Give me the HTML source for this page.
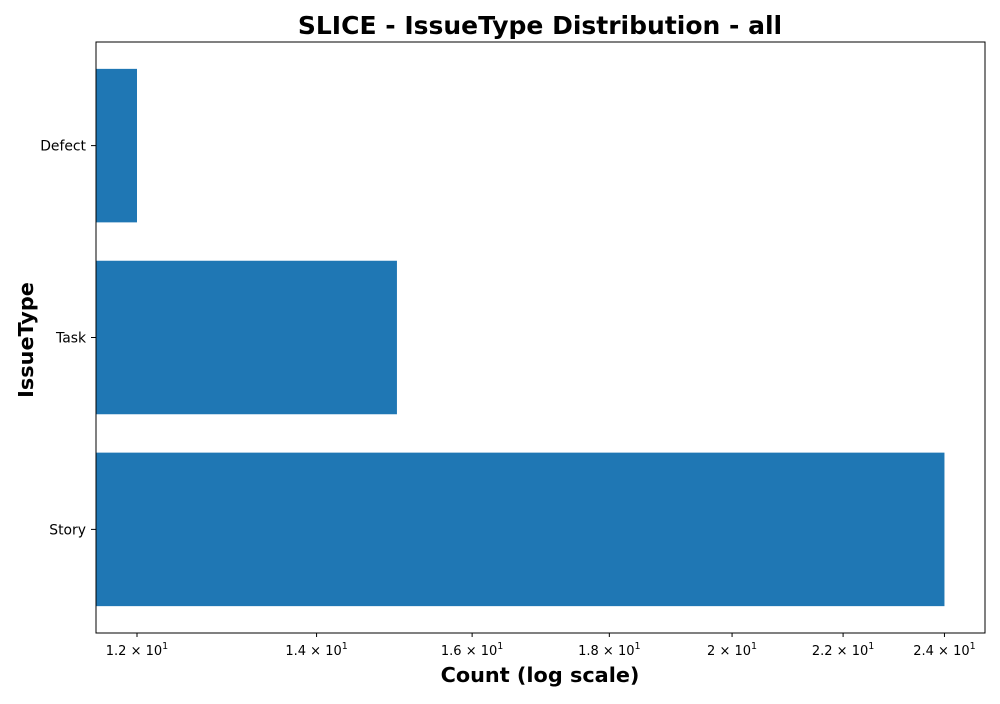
<!DOCTYPE html>
<html><head><meta charset="utf-8"><style>
body{margin:0;background:#fff;font-family:"DejaVu Sans","Liberation Sans",sans-serif}
</style></head><body>
<svg id="chart" width="1000" height="700" xmlns="http://www.w3.org/2000/svg" font-family="DejaVu Sans, Liberation Sans, sans-serif"></svg>
<script>
const categories = ["Story","Task","Defect"];
const counts = [24, 15, 12];
const tickValues = [12, 14, 16, 18, 20, 22, 24];
const tickMantissas = ["1.2","1.4","1.6","1.8","2","2.2","2.4"];

const L=96,R=985,T=42,B=633;
const xmin=11.585,xmax=24.85;
const x=v=>L+(Math.log10(v)-Math.log10(xmin))/(Math.log10(xmax)-Math.log10(xmin))*(R-L);
const ymin=-0.54,ymax=2.54;
const y=v=>B-(v-ymin)/(ymax-ymin)*(B-T);
const svg=document.getElementById('chart');
const NS="http://www.w3.org/2000/svg";
function mk(tag,attrs,parent){const e=document.createElementNS(NS,tag);for(const k in attrs)e.setAttribute(k,attrs[k]);(parent||svg).appendChild(e);return e;}

categories.forEach((c,i)=>{
  const r=mk('rect',{x:L,y:y(i+0.4),width:x(counts[i])-L,height:y(i-0.4)-y(i+0.4),fill:'#1f77b4'});
  
  
  const tk=mk('line',{x1:L-5,x2:L,y1:y(i),y2:y(i),stroke:'#000','stroke-width':1});
  
  
  const t=mk('text',{x:L-10,y:y(i)+5,'text-anchor':'end','font-size':13.9});
  t.textContent=c;
  
  
});

tickValues.forEach((v,i)=>{
  const px=x(v);
  const tk=mk('line',{x1:px,x2:px,y1:B,y2:B+4,stroke:'#000','stroke-width':1});
  
  
  const t=mk('text',{x:px,y:B+22,'text-anchor':'middle','font-size':13});
  t.textContent=tickMantissas[i]+' × 10';
  const s=mk('tspan',{dy:-6,'font-size':9.5},t);
  s.textContent='1';
  
  
});

const frame=mk('rect',{x:L,y:T,width:R-L,height:B-T,fill:'none',stroke:'#000','stroke-width':1});



const title=mk('text',{x:540,y:34,'text-anchor':'middle','font-size':25,'font-weight':'bold'});
title.textContent='SLICE - IssueType Distribution - all';



const xt=mk('text',{x:540,y:682,'text-anchor':'middle','font-size':20.8,'font-weight':'bold'});
xt.textContent='Count (log scale)';



const yt=mk('text',{x:0,y:0,'text-anchor':'middle','font-size':20.8,'font-weight':'bold',transform:'translate(33,340) rotate(-90)'});
yt.textContent='IssueType';


</script>
</body></html>
